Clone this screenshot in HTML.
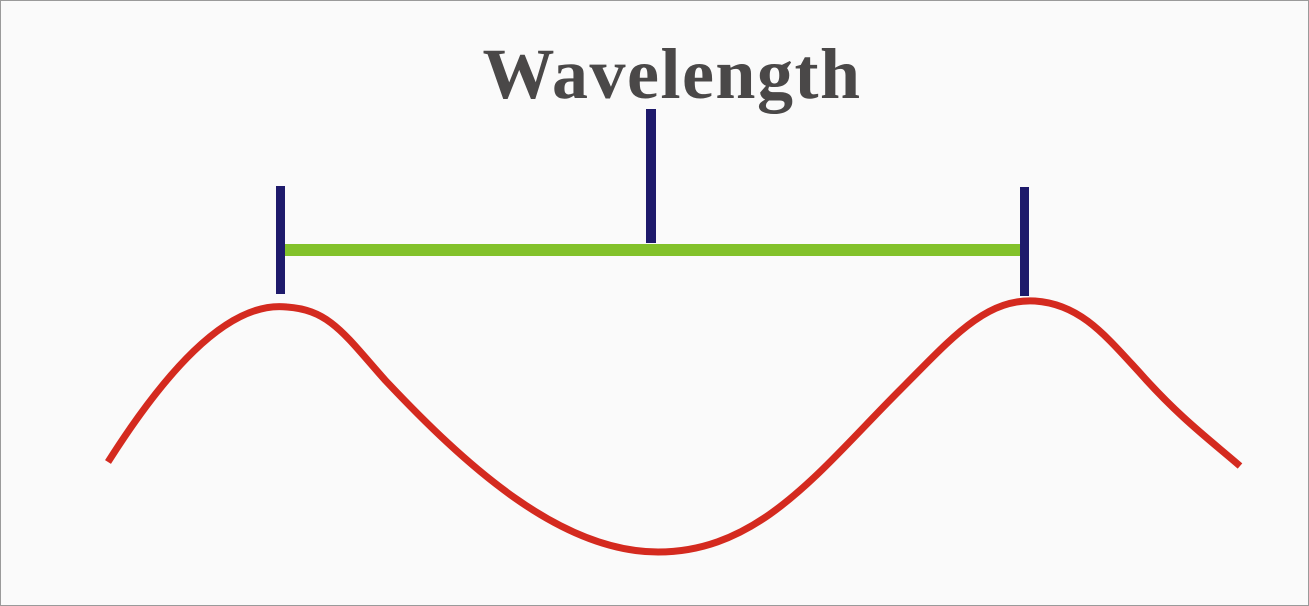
<!DOCTYPE html>
<html><head><style>
html,body{margin:0;padding:0;background:#fafafa;}
svg{display:block;}
</style></head><body>
<svg width="1309" height="606" viewBox="0 0 1309 606" xmlns="http://www.w3.org/2000/svg">
<rect x="0.5" y="0.5" width="1308" height="605" fill="#fafafa" stroke="#9a9a9a" stroke-width="1"/>
<text x="672" y="98" text-anchor="middle" font-family="Liberation Serif, serif" font-weight="bold" font-size="72" letter-spacing="1.5" fill="#4a4848">Wavelength</text>
<rect x="283" y="244" width="738" height="12" fill="#82c12a"/>
<rect x="276" y="186" width="9" height="108" fill="#1e1a6b"/>
<rect x="646" y="109" width="10" height="134" fill="#1e1a6b"/>
<rect x="1020" y="187" width="9" height="109" fill="#1e1a6b"/>
<path d="M108,462 C160,380 225,300 287,307 C330,310 345,335 385,380 C465,465 560,552 658,552 C760,552 820,470 900,390 C950,340 985,298 1035,301 C1080,304 1105,335 1140,373 C1180,418 1210,440 1240,466" fill="none" stroke="#d42a1f" stroke-width="7"/>
</svg>
</body></html>
